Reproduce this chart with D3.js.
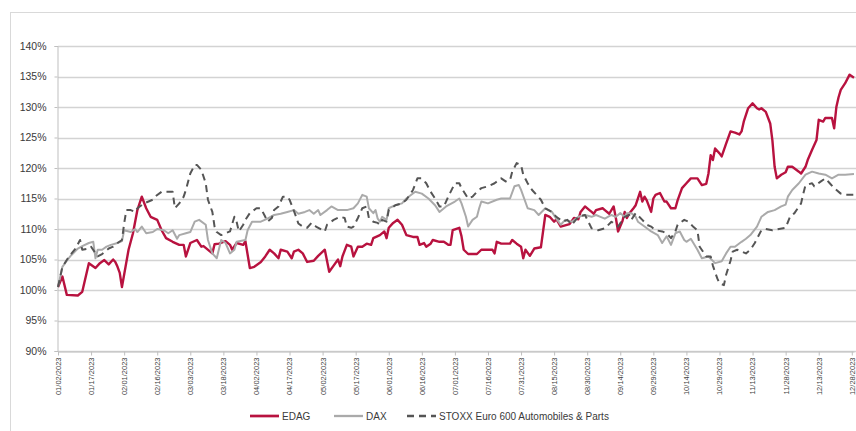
<!DOCTYPE html>
<html>
<head>
<meta charset="utf-8">
<script src="https://cdn.jsdelivr.net/npm/d3@7"></script>
<style>
  body { margin: 0; background: #fff; }
  svg { display: block; font-family: "Liberation Sans", Arial, sans-serif; }
</style>
</head>
<body>
<div id="chart"></div>
<script>
// data: [days after 01/02/2023, index in % of start]
var edag = [[0,100.5],[2,102.2],[4,99.2],[9,99.1],[11,99.7],[14,104.4],[17,103.6],[19,104.4],[21,104.9],[23,104.2],
  [25,105.0],[26,104.6],[27,103.8],[28,102.8],[29,100.5],[32,106.6],[34,109.3],[36,113.1],[38,115.3],[40,113.4],
  [42,112.0],[45,111.5],[47,109.8],[49,108.5],[52,107.9],[55,107.4],[57,107.4],[58,105.5],[60,107.7],[63,108.2],
  [65,107.1],[66,107.2],[70,106.0],[71,107.5],[73,107.6],[76,108.0],[78,107.4],[79,106.6],[81,107.7],[84,107.4],
  [85,108.0],[87,103.6],[89,103.8],[92,104.6],[94,105.5],[96,106.6],[98,106.0],[100,105.2],[101,106.6],[104,106.3],
  [106,105.2],[107,106.3],[109,106.6],[111,106.0],[113,104.6],[116,104.8],[118,105.6],[121,106.6],[123,103.0],[125,104.0],
  [127,105.0],[128,103.9],[129,105.5],[131,107.4],[133,107.1],[134,105.5],[136,107.1],[138,107.1],[140,107.6],[142,107.4],
  [143,108.5],[146,109.0],[148,109.6],[149,108.5],[150,110.2],[152,111.0],[154,111.5],[156,110.7],[158,109.0],[161,108.7],
  [163,108.7],[164,107.4],[166,107.7],[167,107.1],[169,107.6],[170,108.2],[173,107.9],[175,107.9],[177,107.4],[178,107.4],
  [179,109.8],[182,110.2],[183,108.8],[184,106.6],[186,105.9],[190,105.9],[192,106.6],[197,106.6],[198,106.0],[199,107.9],
  [201,107.6],[205,107.6],[206,108.2],[208,107.6],[210,107.1],[211,105.2],[212,106.6],[214,105.6],[216,106.8],[219,107.0],
  [221,112.3],[223,112.0],[225,111.2],[226,111.6],[228,110.4],[230,110.6],[232,110.8],[234,111.8],[236,111.6],[237,112.8],
  [239,113.7],[241,113.1],[242,112.8],[243,112.5],[244,113.1],[247,113.4],[248,113.1],[250,112.5],[252,113.7],[253,111.8],
  [254,109.6],[256,111.3],[257,112.8],[258,111.8],[259,112.5],[261,113.4],[262,113.9],[264,116.1],[265,114.5],[266,115.3],
  [267,114.7],[269,112.8],[270,115.0],[271,115.6],[273,115.9],[275,114.5],[276,114.5],[278,113.4],[280,113.4],[281,114.7],
  [283,116.7],[285,117.5],[287,118.3],[290,118.3],[292,117.2],[294,117.4],[295,119.1],[296,122.1],[297,121.3],[298,123.2],
  [300,122.4],[301,121.9],[303,124.0],[305,126.0],[307,125.8],[309,125.5],[310,126.0],[311,127.6],[313,129.8],[315,130.6],
  [317,129.8],[318,129.6],[319,129.8],[321,129.2],[323,127.3],[324,124.5],[325,120.2],[326,118.3],[328,118.9],[330,119.3],
  [331,120.2],[333,120.2],[336,119.4],[337,119.1],[339,120.2],[340,121.3],[342,123.0],[344,124.6],[345,127.9],[347,127.6],
  [348,128.2],[351,128.2],[352,126.5],[353,130.0],[354,131.6],[355,132.8],[357,133.9],[359,135.3],[361,134.8]];

var dax = [[0,100.5],[2,103.8],[4,104.8],[6,105.7],[9,106.8],[11,107.2],[14,107.7],[16,107.9],[17,105.2],[18,106.6],
  [20,106.6],[22,107.1],[24,107.4],[27,107.7],[29,108.0],[30,109.8],[33,109.5],[35,110.0],[36,109.5],[38,110.4],
  [40,109.3],[43,109.5],[45,110.0],[48,109.8],[50,109.3],[52,109.8],[54,108.4],[55,109.0],[58,109.3],[60,109.5],
  [62,111.2],[64,111.5],[67,110.7],[68,108.2],[70,106.0],[72,105.2],[74,108.2],[76,107.7],[78,106.0],[80,106.6],
  [81,107.9],[85,108.2],[86,109.8],[88,111.2],[92,111.2],[95,111.7],[98,112.3],[101,112.5],[104,112.8],[107,113.1],
  [109,112.5],[112,112.8],[114,113.1],[116,112.5],[118,113.1],[119,112.3],[122,113.1],[124,113.7],[127,113.1],[131,113.1],
  [134,113.4],[136,114.2],[138,115.6],[140,115.3],[141,113.4],[143,112.6],[144,113.1],[145,111.7],[146,111.2],[147,112.0],
  [149,111.5],[150,113.4],[153,113.9],[156,114.2],[158,115.0],[162,116.1],[165,115.8],[168,115.0],[171,113.9],[173,112.8],
  [176,113.7],[180,114.5],[182,115.0],[183,114.2],[185,112.0],[186,110.4],[188,111.5],[190,112.0],[191,113.4],[192,114.5],
  [195,114.2],[199,114.8],[201,115.0],[205,115.0],[207,117.0],[209,117.2],[210,116.4],[213,113.4],[216,113.1],[218,112.3],
  [221,113.4],[224,112.8],[226,111.7],[228,110.7],[230,111.5],[233,111.2],[236,112.0],[239,112.3],[242,112.0],[244,112.3],
  [246,112.0],[248,111.7],[251,112.3],[253,112.0],[255,112.6],[257,112.0],[258,112.6],[260,112.6],[262,112.0],[263,111.2],
  [266,110.4],[269,109.6],[272,109.0],[274,107.7],[276,108.8],[278,107.4],[280,109.3],[282,109.6],[284,108.2],[285,107.9],
  [287,108.4],[290,106.6],[292,105.2],[295,105.5],[298,104.4],[301,104.7],[303,106.0],[305,107.1],[307,107.1],[310,107.9],
  [312,108.4],[314,109.0],[317,110.4],[319,112.0],[322,112.8],[325,113.1],[328,113.7],[330,114.0],[331,115.3],[333,116.4],
  [336,117.5],[339,118.9],[342,119.4],[345,119.1],[348,118.9],[351,118.3],[354,118.9],[357,118.9],[361,119.0]];

var stoxx = [[0,100.5],[2,103.8],[5,105.5],[8,106.8],[10,108.2],[11,106.6],[14,106.8],[15,107.1],[18,105.5],[20,105.9],
  [23,106.8],[25,107.1],[27,107.7],[29,108.2],[30,110.9],[31,113.1],[33,113.1],[35,112.8],[36,113.4],[39,114.2],
  [43,114.8],[44,115.3],[47,116.1],[50,116.1],[52,116.1],[53,113.4],[55,114.2],[57,115.3],[58,116.4],[60,119.1],
  [62,120.5],[63,120.5],[65,119.7],[67,117.5],[68,114.8],[70,112.8],[71,110.4],[72,109.5],[74,109.0],[76,109.3],
  [78,109.6],[80,112.0],[81,111.2],[82,109.6],[84,110.7],[85,111.5],[87,112.6],[90,113.4],[92,113.4],[94,112.0],
  [95,111.2],[97,111.8],[98,113.1],[100,113.7],[102,115.3],[104,115.3],[105,114.8],[106,113.9],[108,112.0],[109,110.9],
  [111,110.4],[113,110.2],[115,111.0],[117,110.4],[121,109.6],[122,110.7],[125,111.5],[128,112.0],[130,111.8],[131,110.4],
  [133,110.2],[134,110.4],[136,111.8],[138,113.4],[140,113.7],[141,111.8],[143,111.2],[145,111.0],[146,110.7],[147,111.5],
  [149,111.2],[150,113.1],[153,113.9],[156,114.2],[158,114.8],[161,116.4],[163,118.3],[165,118.3],[167,117.5],[169,116.1],
  [171,115.0],[173,113.7],[175,113.7],[177,115.3],[180,117.5],[182,117.5],[183,116.7],[186,115.0],[188,115.3],[190,116.1],
  [192,116.7],[195,117.0],[198,117.5],[201,118.3],[203,117.8],[205,118.0],[206,119.4],[208,120.8],[210,120.5],[211,118.9],
  [213,117.5],[215,116.4],[217,115.6],[219,114.8],[221,113.4],[224,112.8],[226,112.0],[229,111.2],[231,111.5],[233,110.7],
  [236,112.0],[239,112.3],[242,110.1],[245,109.8],[248,110.1],[251,111.2],[254,110.4],[257,112.0],[259,112.3],[260,111.5],
  [262,112.6],[265,111.5],[267,110.7],[269,110.4],[271,109.8],[274,109.6],[276,109.3],[278,108.5],[280,109.6],[281,110.7],
  [284,111.5],[286,111.2],[288,110.4],[290,109.8],[291,107.1],[294,105.5],[296,105.5],[297,104.0],[299,101.9],[300,101.1],
  [302,100.8],[303,102.5],[305,104.8],[306,106.3],[308,106.6],[310,106.3],[312,106.0],[314,106.6],[316,107.7],[319,109.8],
  [321,110.0],[324,109.8],[327,110.0],[330,110.2],[332,112.0],[334,112.6],[337,114.2],[338,115.8],[339,117.2],[342,117.5],
  [343,117.0],[346,117.8],[348,118.3],[350,117.5],[352,116.7],[355,115.8],[357,115.6],[361,115.6]];

var seriesNames = ["EDAG", "DAX", "STOXX Euro 600 Automobiles & Parts"];
var yTicks = [90, 95, 100, 105, 110, 115, 120, 125, 130, 135, 140];
var xTickLabels = ["01/02/2023","01/17/2023","02/01/2023","02/16/2023","03/03/2023","03/18/2023","04/02/2023",
  "04/17/2023","05/02/2023","05/17/2023","06/01/2023","06/16/2023","07/01/2023","07/16/2023","07/31/2023",
  "08/15/2023","08/30/2023","09/14/2023","09/29/2023","10/14/2023","10/29/2023","11/13/2023","11/28/2023",
  "12/13/2023","12/28/2023"];

var width = 856, height = 431;
var margin = {top: 46, right: 0, bottom: 80, left: 58};
var colors = ["#b8123f", "#aaaaaa", "#555555"];

var parseDate = d3.timeParse("%m/%d/%Y");
var start = parseDate("01/02/2023");
var end = parseDate("12/29/2023");

var svg = d3.select("#chart").append("svg")
  .attr("width", width)
  .attr("height", height);

// outer frame (cut off on the right and bottom like the picture)
svg.append("rect")
  .attr("x", 10.5).attr("y", 12.5)
  .attr("width", 900).attr("height", 500)
  .attr("fill", "none")
  .attr("stroke", "#d9d9d9");

var x = d3.scaleTime()
  .domain([start, end])
  .range([margin.left, width - 2]);

var y = d3.scaleLinear()
  .domain([90, 140])
  .range([height - margin.bottom, margin.top]);

// gridlines
svg.append("g")
  .selectAll("line")
  .data(yTicks)
  .enter()
  .append("line")
  .attr("x1", margin.left)
  .attr("x2", width)
  .attr("y1", function(d) { return Math.round(y(d)) + 0.5; })
  .attr("y2", function(d) { return Math.round(y(d)) + 0.5; })
  .attr("stroke", "#d3d3d3")
  .attr("stroke-width", 1.3);

// y axis
var yAxis = svg.append("g")
  .attr("transform", "translate(" + (margin.left - 0.5) + ",0)")
  .call(d3.axisLeft(y).tickValues(yTicks).tickSize(3).tickPadding(8)
    .tickFormat(function(d) { return d + "%"; }));
yAxis.select(".domain").attr("stroke", "#bfbfbf");
yAxis.selectAll(".tick line").attr("stroke", "#bfbfbf");
yAxis.selectAll("text")
  .attr("fill", "#3a3a3a")
  .style("font-size", "10.5px");

// x axis
var xAxis = svg.append("g")
  .attr("transform", "translate(0," + (Math.round(y(90)) + 0.5) + ")")
  .call(d3.axisBottom(x)
    .tickValues(xTickLabels.map(parseDate))
    .tickSize(4)
    .tickSizeOuter(0)
    .tickFormat(d3.timeFormat("%m/%d/%Y")));
xAxis.select(".domain").attr("stroke", "#bfbfbf");
xAxis.selectAll(".tick line").attr("stroke", "#bfbfbf");
xAxis.selectAll("text")
  .attr("fill", "#404040")
  .style("font-size", "7.5px")
  .attr("text-anchor", "end")
  .attr("transform", "rotate(-90)")
  .attr("x", -6)
  .attr("y", 0)
  .attr("dy", "0.32em");

// lines
var line = d3.line()
  .x(function(d) { return x(d3.timeDay.offset(start, d[0])); })
  .y(function(d) { return y(d[1]); });

var allSeries = [edag, dax, stoxx];
var dashes = [null, null, "7,5"];
var widths = [2.4, 2, 2];

svg.append("g")
  .selectAll("path")
  .data(allSeries)
  .enter()
  .append("path")
  .attr("d", line)
  .attr("fill", "none")
  .attr("stroke", function(d, i) { return colors[i]; })
  .attr("stroke-width", function(d, i) { return widths[i]; })
  .attr("stroke-dasharray", function(d, i) { return dashes[i]; })
  .attr("stroke-linejoin", "round");

// legend
var legendX = [250, 334, 407];
var legend = svg.append("g").attr("transform", "translate(0,416)");
var items = legend.selectAll("g")
  .data(seriesNames)
  .enter()
  .append("g")
  .attr("transform", function(d, i) { return "translate(" + legendX[i] + ",0)"; });
items.append("line")
  .attr("x1", 0).attr("x2", 29)
  .attr("stroke", function(d, i) { return colors[i]; })
  .attr("stroke-width", function(d, i) { return widths[i] + 0.3; })
  .attr("stroke-dasharray", function(d, i) { return dashes[i]; });
items.append("text")
  .attr("x", 32)
  .attr("dy", "0.35em")
  .attr("fill", "#3a3a3a")
  .style("font-size", "10px")
  .text(function(d) { return d; });
</script>
</body>
</html>
